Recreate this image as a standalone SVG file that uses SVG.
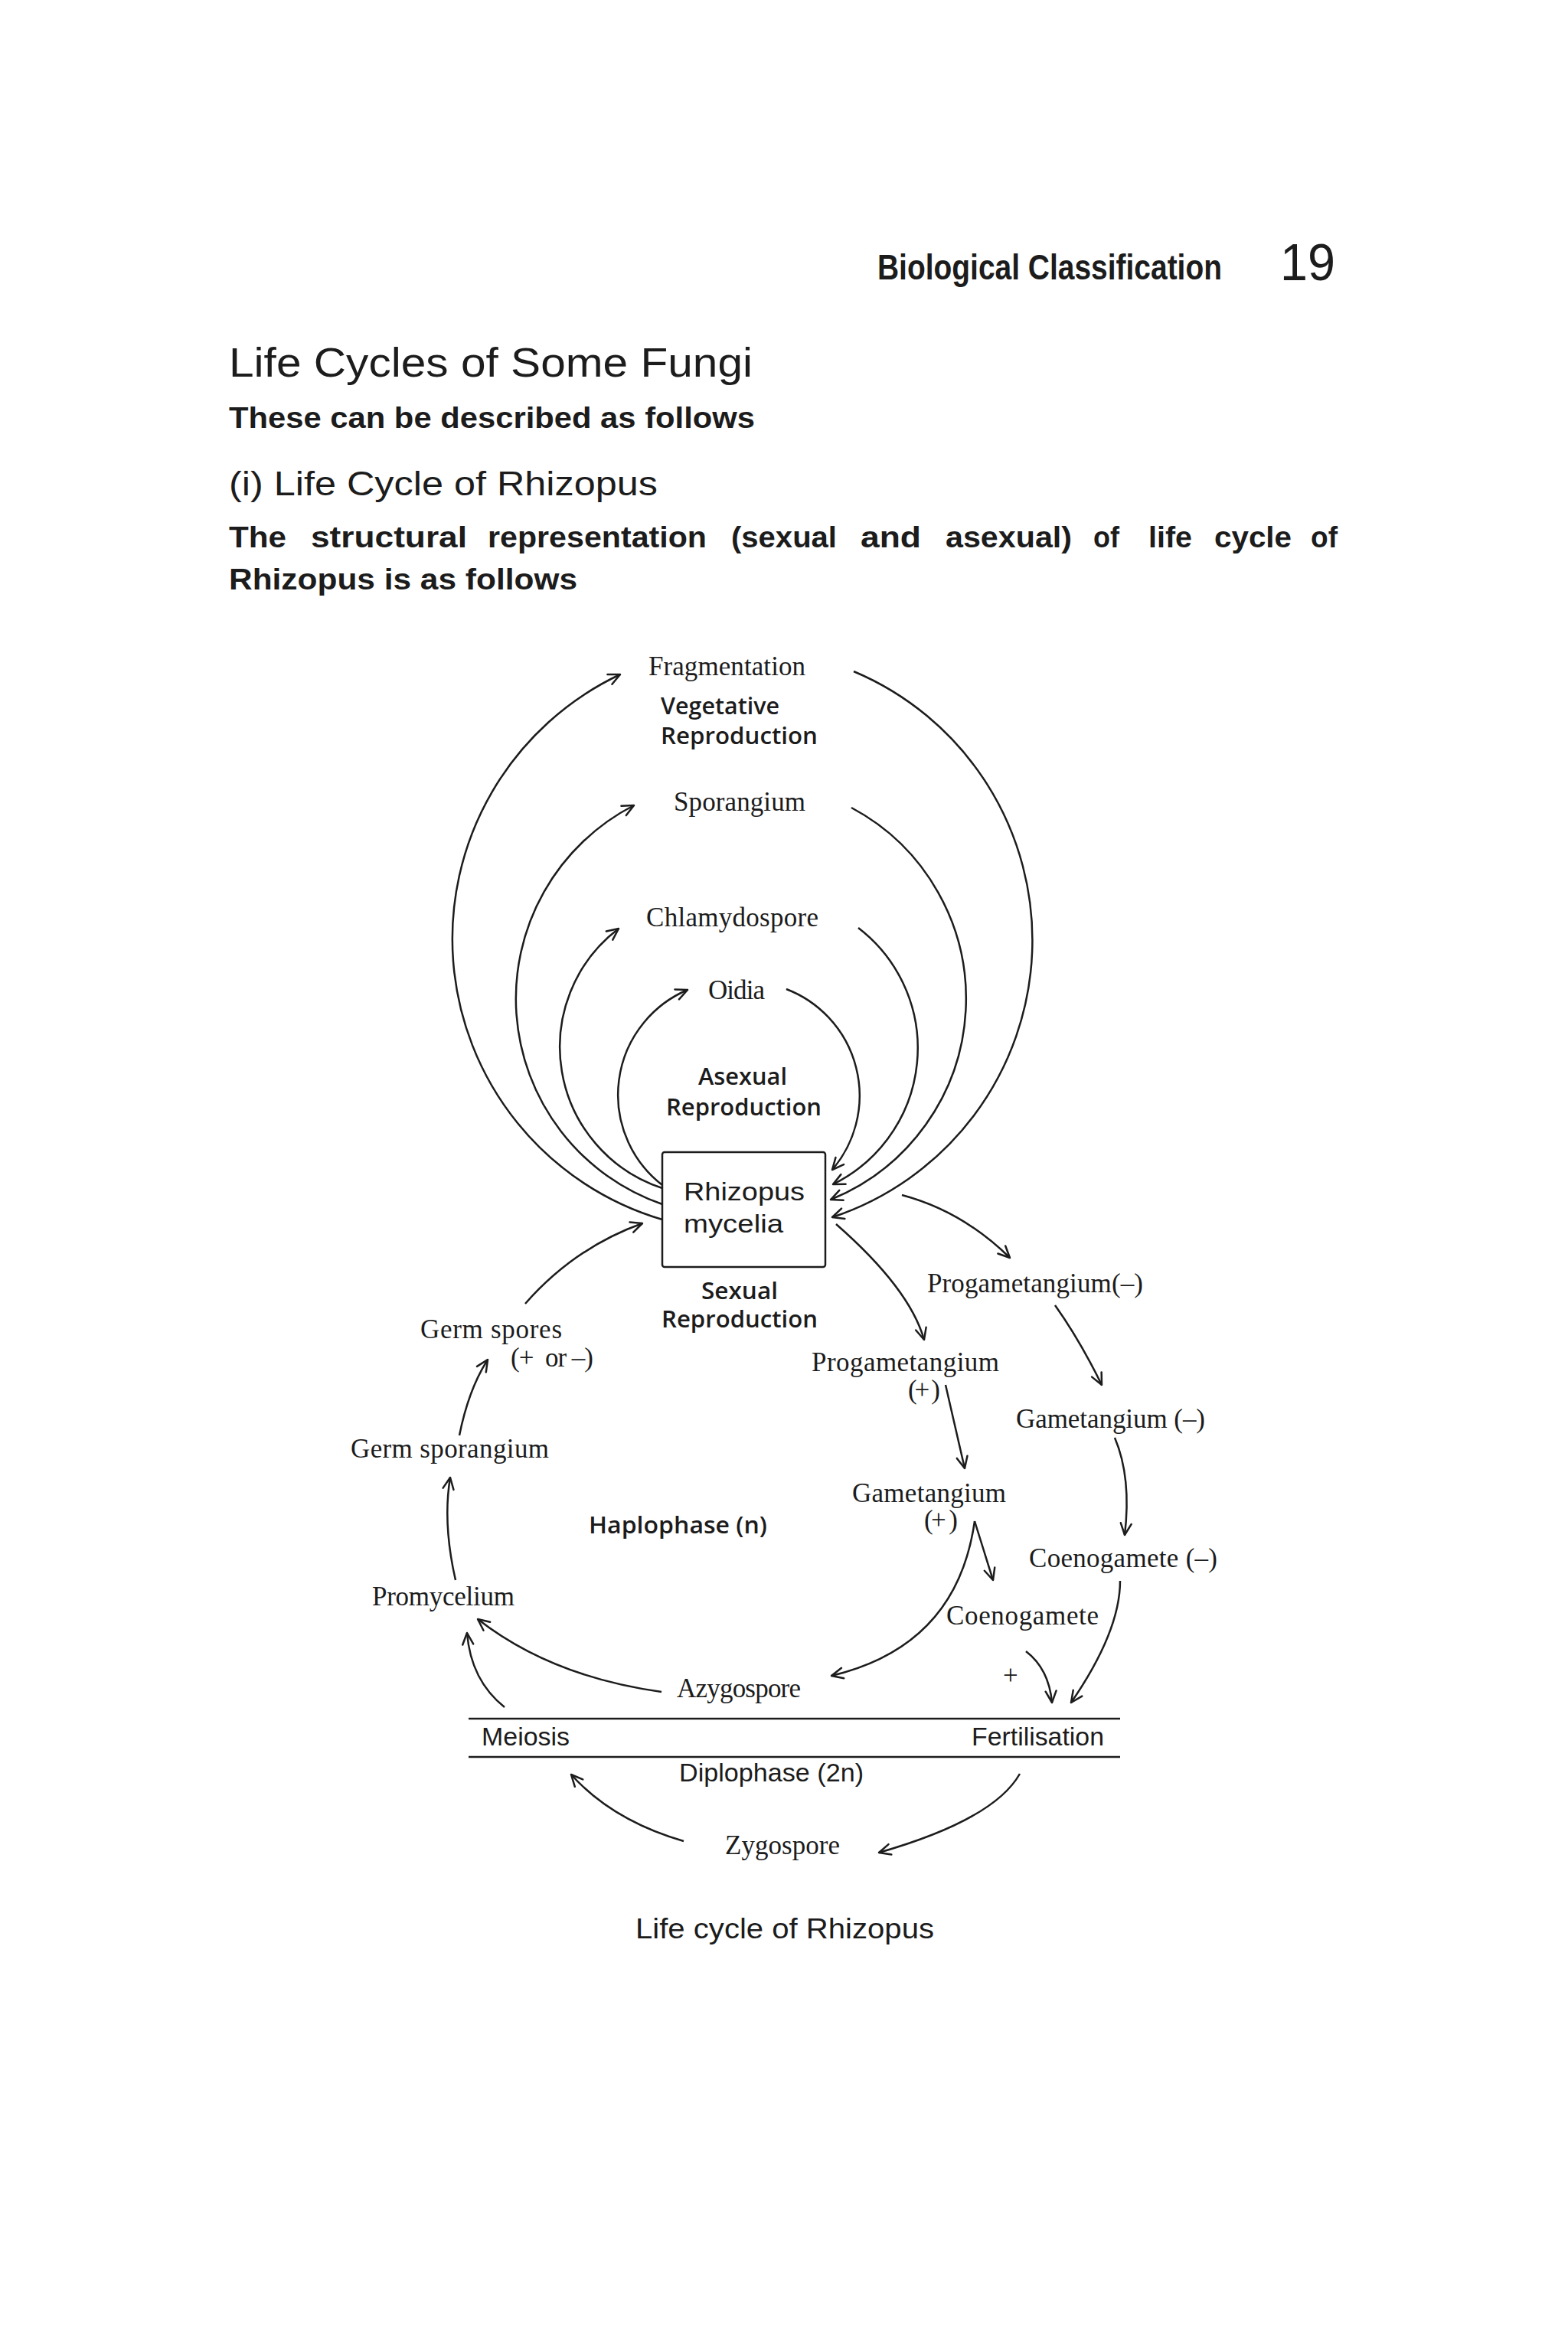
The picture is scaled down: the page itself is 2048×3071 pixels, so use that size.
<svg xmlns="http://www.w3.org/2000/svg" width="2048" height="3071" viewBox="0 0 2048 3071">
<style>
.pg{font-family:"Liberation Sans",Arial,sans-serif;fill:#1c1c1c}
.b{font-weight:bold}
.sf{font-family:"Liberation Serif","Times New Roman",serif;font-size:35px;fill:#1c1c1c}
.ss{font-family:"Open Sans","Liberation Sans",sans-serif;font-weight:600;font-size:31px;fill:#1c1c1c}
.sn{font-family:"Liberation Sans",Arial,sans-serif;font-size:33px;fill:#1c1c1c}
.ln{fill:none;stroke:#1c1c1c;stroke-width:2.5}
.ar{marker-end:url(#ah)}
</style>
<defs>
<marker id="ah" markerUnits="userSpaceOnUse" markerWidth="20" markerHeight="20" viewBox="-18 -10 20 20" refX="0" refY="0" orient="auto" overflow="visible">
<path d="M-15,-7 L0,0 L-15,7" fill="none" stroke="#1c1c1c" stroke-width="2.5" stroke-linecap="round" stroke-linejoin="round"/>
</marker>
</defs>
<rect width="2048" height="3071" fill="#ffffff"/>

<g id="page-text">
<text class="pg b" x="1146" y="365" font-size="46" textLength="450" lengthAdjust="spacingAndGlyphs">Biological Classification</text>
<text class="pg" x="1672" y="366" font-size="68" textLength="72" lengthAdjust="spacingAndGlyphs">19</text>
<text class="pg" x="299" y="492" font-size="53" textLength="684" lengthAdjust="spacingAndGlyphs">Life Cycles of Some Fungi</text>
<text class="pg b" x="299" y="559" font-size="38" textLength="687" lengthAdjust="spacingAndGlyphs">These can be described as follows</text>
<text class="pg" x="299" y="647" font-size="45" textLength="560" lengthAdjust="spacingAndGlyphs">(i) Life Cycle of Rhizopus</text>
<g class="pg b" font-size="38">
<text x="299" y="715" textLength="75" lengthAdjust="spacingAndGlyphs">The</text>
<text x="406" y="715" textLength="204" lengthAdjust="spacingAndGlyphs">structural</text>
<text x="637" y="715" textLength="286" lengthAdjust="spacingAndGlyphs">representation</text>
<text x="955" y="715" textLength="138" lengthAdjust="spacingAndGlyphs">(sexual</text>
<text x="1124" y="715" textLength="79" lengthAdjust="spacingAndGlyphs">and</text>
<text x="1235" y="715" textLength="165" lengthAdjust="spacingAndGlyphs">asexual)</text>
<text x="1428" y="715" textLength="34" lengthAdjust="spacingAndGlyphs">of</text>
<text x="1500" y="715" textLength="57" lengthAdjust="spacingAndGlyphs">life</text>
<text x="1586" y="715" textLength="101" lengthAdjust="spacingAndGlyphs">cycle</text>
<text x="1712" y="715" textLength="35" lengthAdjust="spacingAndGlyphs">of</text>
</g>
<text class="pg b" x="299" y="770" font-size="38" textLength="455" lengthAdjust="spacingAndGlyphs">Rhizopus is as follows</text>
<text class="pg" x="830" y="2532" font-size="37" textLength="390" lengthAdjust="spacingAndGlyphs">Life cycle of Rhizopus</text>
</g>

<g id="connectors">
<path class="ln ar" d="M865,1593 A382,382 0 0 1 810,881"/>
<path class="ln ar" d="M1115,877 A381,381 0 0 1 1087,1590"/>
<path class="ln ar" d="M865,1573 A284,284 0 0 1 828,1052"/>
<path class="ln ar" d="M1112,1055 A283,283 0 0 1 1085,1567"/>
<path class="ln ar" d="M865,1552 A194,194 0 0 1 808,1213"/>
<path class="ln ar" d="M1121,1212 A198,198 0 0 1 1088,1547"/>
<path class="ln ar" d="M865,1548 A149,149 0 0 1 898,1293"/>
<path class="ln ar" d="M1027,1292 A149,149 0 0 1 1087,1528"/>
<path class="ln ar" d="M686,1703 Q750,1630 839,1598"/>
<path class="ln ar" d="M600,1875 Q612,1815 637,1776"/>
<path class="ln ar" d="M595,2064 Q578,1990 588,1930"/>
<path class="ln ar" d="M864,2210 Q720,2190 624,2115"/>
<path class="ln ar" d="M659,2230 Q615,2195 610,2133"/>
<path class="ln ar" d="M1178,1561 Q1257,1582 1319,1643"/>
<path class="ln ar" d="M1092,1599 Q1188,1683 1207,1750"/>
<path class="ln ar" d="M1235,1809 L1260,1918"/>
<path class="ln ar" d="M1378,1705 Q1410,1750 1439,1809"/>
<path class="ln ar" d="M1456,1878 Q1478,1930 1469,2005"/>
<path class="ln ar" d="M1273,1987 Q1250,2150 1086,2189"/>
<path class="ln ar" d="M1273,1987 L1297,2064"/>
<path class="ln ar" d="M1463,2065 Q1463,2131 1399,2224"/>
<path class="ln ar" d="M1340,2157 Q1370,2180 1374,2224"/>
<path class="ln ar" d="M1332,2317 Q1298,2377 1148,2420"/>
<path class="ln ar" d="M893,2405 Q800,2378 746,2318"/>
<line class="ln" x1="612" y1="2245" x2="1463" y2="2245" stroke-width="2.8"/>
<line class="ln" x1="612" y1="2295" x2="1463" y2="2295" stroke-width="2.8"/>
</g>

<g id="node-mycelia">
<rect x="865" y="1505" width="213" height="150" rx="3" fill="#ffffff" stroke="#1c1c1c" stroke-width="2.5"/>
<text class="sn" x="893" y="1568" font-size="41" textLength="158" lengthAdjust="spacingAndGlyphs">Rhizopus</text>
<text class="sn" x="893" y="1610" font-size="41" textLength="130" lengthAdjust="spacingAndGlyphs">mycelia</text>
</g>
<g id="label-vegetative">
<text class="ss" x="863" y="933" textLength="155" lengthAdjust="spacingAndGlyphs">Vegetative</text>
<text class="ss" x="863" y="972" textLength="205" lengthAdjust="spacingAndGlyphs">Reproduction</text>
</g>
<g id="label-asexual">
<text class="ss" x="912" y="1417" textLength="116" lengthAdjust="spacingAndGlyphs">Asexual</text>
<text class="ss" x="870" y="1457" textLength="203" lengthAdjust="spacingAndGlyphs">Reproduction</text>
</g>
<g id="label-sexual">
<text class="ss" x="916" y="1697" textLength="100" lengthAdjust="spacingAndGlyphs">Sexual</text>
<text class="ss" x="864" y="1734" textLength="204" lengthAdjust="spacingAndGlyphs">Reproduction</text>
</g>
<g id="label-haplophase"><text class="ss" x="769" y="2003" textLength="233" lengthAdjust="spacingAndGlyphs">Haplophase (n)</text></g>
<g id="label-meiosis"><text class="sn" x="629" y="2280" textLength="115" lengthAdjust="spacingAndGlyphs">Meiosis</text></g>
<g id="label-fertilisation"><text class="sn" x="1269" y="2280" textLength="173" lengthAdjust="spacingAndGlyphs">Fertilisation</text></g>
<g id="label-diplophase"><text class="sn" x="887" y="2327" textLength="241" lengthAdjust="spacingAndGlyphs">Diplophase (2n)</text></g>

<g id="node-fragmentation"><text class="sf" x="847" y="882" textLength="205">Fragmentation</text></g>
<g id="node-sporangium"><text class="sf" x="880" y="1059" textLength="172">Sporangium</text></g>
<g id="node-chlamydospore"><text class="sf" x="844" y="1210" textLength="225">Chlamydospore</text></g>
<g id="node-oidia"><text class="sf" x="925" y="1305" textLength="74">Oidia</text></g>
<g id="node-germ-spores">
<text class="sf" x="549" y="1748" textLength="185">Germ spores</text>
<text class="sf" x="667" y="1785" textLength="108" xml:space="preserve">(+  or –)</text>
</g>
<g id="node-germ-sporangium"><text class="sf" x="458" y="1904" textLength="259">Germ sporangium</text></g>
<g id="node-promycelium"><text class="sf" x="486" y="2097" textLength="186">Promycelium</text></g>
<g id="node-azygospore"><text class="sf" x="884" y="2217" textLength="162">Azygospore</text></g>
<g id="node-progametangium-minus"><text class="sf" x="1211" y="1688" textLength="282">Progametangium(–)</text></g>
<g id="node-progametangium-plus">
<text class="sf" x="1060" y="1791" textLength="245">Progametangium</text>
<text class="sf" x="1186" y="1827" textLength="42" xml:space="preserve">(+ )</text>
</g>
<g id="node-gametangium-minus"><text class="sf" x="1327" y="1865" textLength="247">Gametangium (–)</text></g>
<g id="node-gametangium-plus">
<text class="sf" x="1113" y="1962" textLength="201">Gametangium</text>
<text class="sf" x="1207" y="1997" textLength="44" xml:space="preserve">(+ )</text>
</g>
<g id="node-coenogamete-minus"><text class="sf" x="1344" y="2047" textLength="246">Coenogamete (–)</text></g>
<g id="node-coenogamete-plus">
<text class="sf" x="1236" y="2122" textLength="199">Coenogamete</text>
<text class="sf" x="1310" y="2200">+</text>
</g>
<g id="node-zygospore"><text class="sf" x="947" y="2422" textLength="150">Zygospore</text></g>
</svg>
